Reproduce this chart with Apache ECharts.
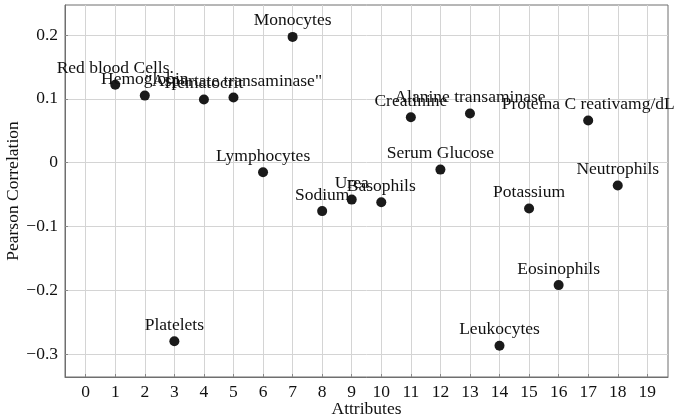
<!DOCTYPE html>
<html>
<head>
<meta charset="utf-8">
<script src="https://cdn.jsdelivr.net/npm/echarts@6/dist/echarts.min.js"></script>
<style>html,body{margin:0;padding:0;background:#fff}#c{width:685px;height:417px}</style>
</head>
<body>
<div id="c"></div>
<script>
const attributes = [1, 2, 3, 4, 5, 6, 7, 8, 9, 10, 11, 12, 13, 14, 15, 16, 17, 18];
const names = ['Red blood Cells.', 'Hemoglobin', 'Platelets', 'Hematocrit', '"Aspartate transaminase"',
  'Lymphocytes', 'Monocytes', 'Sodium', 'Urea', 'Basophils', 'Creatinine', 'Serum Glucose',
  'Alanine transaminase', 'Leukocytes', 'Potassium', 'Eosinophils', 'Proteina C reativamg/dL', 'Neutrophils'];
const correlation = [0.122, 0.105, -0.280, 0.099, 0.102, -0.015, 0.197, -0.076, -0.058, -0.062,
  0.071, -0.011, 0.077, -0.287, -0.072, -0.192, 0.066, -0.036];
const xTicks = [0,1,2,3,4,5,6,7,8,9,10,11,12,13,14,15,16,17,18,19];
const yTicks = [-0.3, -0.2, -0.1, 0, 0.1, 0.2];

const FONT = 'Liberation Serif';
const TXT = '#111';
const chart = echarts.init(document.getElementById('c'));
chart.setOption({
  animation: false,
  textStyle: { fontFamily: FONT },
  grid: { left: 65, right: 17, top: 5, bottom: 40, outerBoundsMode: 'none', containLabel: false,
    show: true, borderColor: '#6f6f6f', borderWidth: 1, backgroundColor: 'transparent' },
  xAxis: {
    type: 'value', min: -0.7, max: 19.7,
    name: 'Attributes', nameLocation: 'middle', nameGap: 23,
    nameMoveOverlap: false,
    nameTextStyle: { fontFamily: FONT, fontSize: 17.5, color: TXT, verticalAlign: 'top' },
    axisLine: { show: true, onZero: false, lineStyle: { color: '#6f6f6f' } },
    axisTick: { show: true, inside: true, length: 3, lineStyle: { color: '#888' }, customValues: xTicks },
    axisLabel: { customValues: xTicks, fontFamily: FONT, fontSize: 17.5, color: TXT, margin: 6,
      formatter: v => String(v) },
    splitLine: { show: true, lineStyle: { color: '#d4d4d4', width: 1 } }
  },
  yAxis: {
    type: 'value', min: -0.336, max: 0.247,
    name: 'Pearson Correlation', nameLocation: 'middle', nameGap: 43,
    nameMoveOverlap: false,
    nameTextStyle: { fontFamily: FONT, fontSize: 17.5, color: TXT },
    axisLine: { show: true, onZero: false, lineStyle: { color: '#6f6f6f' } },
    axisTick: { show: true, inside: true, length: 3, lineStyle: { color: '#888' }, customValues: yTicks },
    axisLabel: { customValues: yTicks, fontFamily: FONT, fontSize: 17.5, color: TXT, margin: 7,
      formatter: v => v === 0 ? '0' : String(Math.round(v * 10) / 10).replace('-', '\u2212') },
    splitLine: { show: true, lineStyle: { color: '#d4d4d4', width: 1 } }
  },
  series: [{
    type: 'scatter',
    symbol: 'circle',
    symbolSize: 10,
    itemStyle: { color: '#1a1a1a', opacity: 1 },
    data: attributes.map((x, i) => ({ value: [x, correlation[i]], name: names[i] })),
    label: {
      show: true, position: 'top', distance: 2,
      formatter: p => p.name,
      fontFamily: FONT, fontSize: 17.5, color: TXT
    }
  }]
});
</script>
</body>
</html>
